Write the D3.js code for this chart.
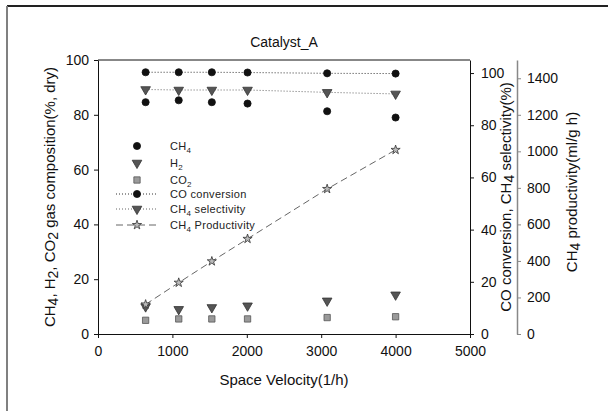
<!DOCTYPE html>
<html>
<head>
<meta charset="utf-8">
<script src="https://cdn.jsdelivr.net/npm/d3@7"></script>
<style>
  body { margin: 0; background: #fff; }
  svg { display: block; font-family: "Liberation Sans", Arial, sans-serif; }
</style>
</head>
<body>
<svg id="chart" width="608" height="411"></svg>
<script>
// values
const spaceVelocity = [640, 1085, 1530, 2010, 3080, 4000];
const ch4 = [84.6, 85.3, 84.6, 84.1, 81.3, 79.0];
const h2 = [10.0, 9.0, 9.7, 10.3, 12.1, 14.3];
const co2 = [5.0, 5.5, 5.5, 5.5, 6.0, 6.3];
const coConversion = [100.3, 100.3, 100.3, 100.2, 99.9, 99.8];
const ch4Selectivity = [93.7, 93.5, 93.5, 93.5, 92.6, 92.0];
const ch4Productivity = [162, 281, 398, 521, 794, 1008];

const xTicks = [0, 1000, 2000, 3000, 4000, 5000];
const leftTicks = [0, 20, 40, 60, 80, 100];
const right1Ticks = [0, 20, 40, 60, 80, 100];
const right2Ticks = [0, 200, 400, 600, 800, 1000, 1200, 1400];

const svg = d3.select("#chart");
const plotL = 98, plotR = 470, plotT = 60, plotB = 334, axis2X = 517;
const fmt = d3.format("d");

const x = d3.scaleLinear().domain([0, 5000]).range([plotL, plotR]);
const yL = d3.scaleLinear().domain([0, 100]).range([plotB, plotT]);
const yR1 = d3.scaleLinear().domain([0, 105]).range([plotB, plotT]);
const yR2 = d3.scaleLinear().domain([0, 1500]).range([plotB, plotT]);

// outer frame (only top and left edges show)
svg.append("line").attr("x1", 7).attr("x2", 608).attr("y1", 6).attr("y2", 6)
    .attr("stroke", "#222").attr("stroke-width", 2);
svg.append("line").attr("x1", 7).attr("x2", 7).attr("y1", 6).attr("y2", 411)
    .attr("stroke", "#808080").attr("stroke-width", 2);

// text with subscripts: parts = [[str, isSub], ...]
function richText(g, parts, subSize, shift) {
    parts.forEach(([s, sub], i) => {
        const t = g.append("tspan").text(s);
        if (sub) t.attr("font-size", subSize).attr("dy", shift);
        else if (i > 0 && parts[i - 1][1]) t.attr("dy", -shift);
    });
    return g;
}

// axes
function styleAxis(g) {
    g.selectAll("text").attr("font-size", 14).attr("fill", "#111")
        .attr("font-family", "Liberation Sans, Arial, sans-serif");
    g.selectAll("line").attr("stroke", "#111");
    g.select(".domain").attr("stroke", "#111");
}

svg.append("g").attr("transform", `translate(0,${plotB})`)
    .call(d3.axisBottom(x).tickValues(xTicks).tickFormat(fmt).tickSize(4).tickSizeOuter(0).tickPadding(8))
    .call(styleAxis);

svg.append("g").attr("transform", `translate(${plotL},0)`)
    .call(d3.axisLeft(yL).tickValues(leftTicks).tickFormat(fmt).tickSize(4).tickSizeOuter(0).tickPadding(5))
    .call(styleAxis);

svg.append("g").attr("transform", `translate(${plotR},0)`)
    .call(d3.axisRight(yR1).tickValues(right1Ticks).tickFormat(fmt).tickSize(4).tickSizeOuter(0).tickPadding(7))
    .call(styleAxis);

// top edge of plot box
svg.append("line").attr("x1", plotL).attr("x2", plotR).attr("y1", plotT).attr("y2", plotT)
    .attr("stroke", "#111");

const ax2 = svg.append("g").attr("transform", `translate(${axis2X},0)`)
    .call(d3.axisRight(yR2).tickValues(right2Ticks).tickFormat(fmt).tickSize(4).tickSizeOuter(0).tickPadding(6))
    .call(styleAxis);
ax2.select(".domain").attr("stroke", "#888").attr("stroke-width", 1.5);
ax2.selectAll(".tick line").attr("stroke", "#888");

// titles
svg.append("text").attr("x", (plotL + plotR) / 2).attr("y", 47)
    .attr("text-anchor", "middle").attr("font-size", 14).attr("fill", "#111")
    .text("Catalyst_A");

svg.append("text").attr("x", (plotL + plotR) / 2).attr("y", 385)
    .attr("text-anchor", "middle").attr("font-size", 15).attr("fill", "#111")
    .text("Space Velocity(1/h)");

richText(svg.append("text")
    .attr("transform", `translate(55,${(plotT + plotB) / 2}) rotate(-90)`)
    .attr("text-anchor", "middle").attr("font-size", 15).attr("fill", "#111"),
    [["CH", 0], ["4", 1], [", H", 0], ["2", 1], [", CO", 0], ["2", 1], [" gas composition(%, dry)", 0]],
    14, 3);

richText(svg.append("text")
    .attr("transform", `translate(511,${(plotT + plotB) / 2}) rotate(-90)`)
    .attr("text-anchor", "middle").attr("font-size", 15).attr("fill", "#111"),
    [["CO conversion, CH", 0], ["4", 1], [" selectivity(%)", 0]],
    14, 3);

richText(svg.append("text")
    .attr("transform", `translate(577,192) rotate(-90)`)
    .attr("text-anchor", "middle").attr("font-size", 15).attr("fill", "#111"),
    [["CH", 0], ["4", 1], [" productivity(ml/g h)", 0]],
    14, 3);

// marker drawing helpers
const circleSym = d3.symbol().type(d3.symbolCircle).size(40);
const triSym = d3.symbol().type(d3.symbolTriangle).size(40);
const sqSym = d3.symbol().type(d3.symbolSquare).size(40);
const starSym = d3.symbol().type(d3.symbolStar).size(26);

const styles = {
    circle: { path: circleSym(), fill: "#111", stroke: "#111", rot: 0 },
    tri: { path: triSym(), fill: "#555", stroke: "#333", rot: 180 },
    sq: { path: sqSym(), fill: "#9a9a9a", stroke: "#555", rot: 0 },
    star: { path: starSym(), fill: "#bbb", stroke: "#333", rot: 0 }
};

function drawMarkers(vals, yScale, kind) {
    const st = styles[kind];
    svg.append("g").selectAll("path")
        .data(vals)
        .enter()
        .append("path")
        .attr("d", st.path)
        .attr("transform", (d, i) => `translate(${x(spaceVelocity[i])},${yScale(d)}) rotate(${st.rot})`)
        .attr("fill", st.fill)
        .attr("stroke", st.stroke)
        .attr("stroke-width", 0.8);
}

function drawLine(vals, yScale, color, dash) {
    const line = d3.line()
        .x((d, i) => x(spaceVelocity[i]))
        .y(d => yScale(d));
    svg.append("path")
        .datum(vals)
        .attr("fill", "none")
        .attr("stroke", color)
        .attr("stroke-width", 1)
        .attr("stroke-dasharray", dash)
        .attr("d", line);
}

drawLine(coConversion, yR1, "#333", "1,2");
drawLine(ch4Selectivity, yR1, "#666", "1,2");
drawLine(ch4Productivity, yR2, "#666", "7,4");

drawMarkers(ch4, yL, "circle");
drawMarkers(h2, yL, "tri");
drawMarkers(co2, yL, "sq");
drawMarkers(coConversion, yR1, "circle");
drawMarkers(ch4Selectivity, yR1, "tri");
drawMarkers(ch4Productivity, yR2, "star");

// legend
const legendItems = [
    { y: 146, kind: "circle", line: null, parts: [["CH", 0], ["4", 1]] },
    { y: 163, kind: "tri", line: null, parts: [["H", 0], ["2", 1]] },
    { y: 180, kind: "sq", line: null, parts: [["CO", 0], ["2", 1]] },
    { y: 194, kind: "circle", line: ["#333", "1,2"], parts: [["CO conversion", 0]] },
    { y: 209, kind: "tri", line: ["#666", "1,2"], parts: [["CH", 0], ["4", 1], [" selectivity", 0]] },
    { y: 225, kind: "star", line: ["#666", "7,4"], parts: [["CH", 0], ["4", 1], [" Productivity", 0]] }
];

const legend = svg.append("g");
legendItems.forEach(item => {
    if (item.line) {
        legend.append("line").attr("x1", 116).attr("x2", 157)
            .attr("y1", item.y).attr("y2", item.y)
            .attr("stroke", item.line[0]).attr("stroke-dasharray", item.line[1]);
    }
    const st = styles[item.kind];
    legend.append("path").attr("d", st.path)
        .attr("transform", `translate(137,${item.y}) rotate(${st.rot})`)
        .attr("fill", st.fill).attr("stroke", st.stroke).attr("stroke-width", 0.8);
    richText(legend.append("text").attr("x", 170).attr("y", item.y + 4)
        .attr("font-size", 11).attr("fill", "#222").attr("letter-spacing", 0.3),
        item.parts, 8, 3);
});
</script>
</body>
</html>
